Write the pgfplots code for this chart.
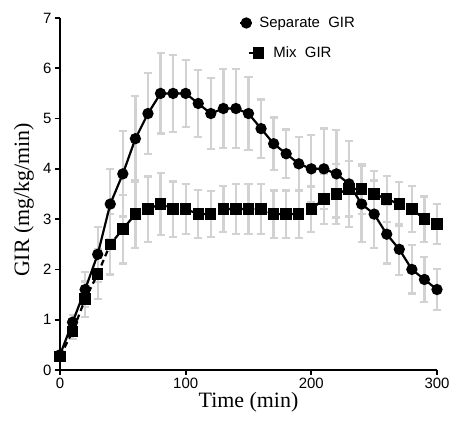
\documentclass[border=0pt]{standalone}
\usepackage{pgfplots}
\pgfplotsset{compat=1.18}
\usepackage{pgfplotstable}
\usepackage{fontspec}
\setmainfont{Liberation Serif}
\newfontfamily\arial{Liberation Sans}
\usetikzlibrary{calc}
\definecolor{errgray}{RGB}{210,210,210}

\pgfplotsset{
  sepimg/.style={legend image code/.code={\draw[mark repeat=2, mark phase=2, ##1] plot coordinates {(0bp,0bp) (6bp,0bp) (12bp,0bp)};}},
  miximg/.style={legend image code/.code={\path[draw=none, fill=none] (0bp,-4bp) rectangle (12bp,4bp);
     \draw[overlay, black, solid, line width=2.2bp] (9bp,0bp) -- (18bp,0bp);
     \draw[overlay, ##1, draw=none] plot coordinates {(18bp,0bp)};}},
}

\pgfplotstableread{
t y e
0 0.30 0.05
10 0.95 0.15
20 1.60 0.35
30 2.30 0.55
40 3.30 0.70
50 3.90 0.85
60 4.60 0.85
70 5.10 0.80
80 5.50 0.80
90 5.50 0.77
100 5.50 0.67
110 5.30 0.66
120 5.10 0.70
130 5.20 0.78
140 5.20 0.78
150 5.10 0.72
160 4.80 0.58
170 4.50 0.52
180 4.30 0.48
190 4.10 0.53
200 4.00 0.67
210 4.00 0.80
220 3.90 0.87
230 3.70 0.86
240 3.30 0.75
250 3.10 0.67
260 2.70 0.58
270 2.40 0.51
280 2.00 0.48
290 1.80 0.45
300 1.60 0.41
}\sep

\pgfplotstableread{
t y e
0 0.27 0.05
10 0.76 0.15
20 1.41 0.35
30 1.91 0.50
40 2.50 0.60
50 2.80 0.68
60 3.10 0.68
70 3.20 0.65
80 3.30 0.62
90 3.20 0.55
100 3.20 0.50
110 3.10 0.48
120 3.10 0.46
130 3.20 0.46
140 3.20 0.50
150 3.20 0.50
160 3.20 0.50
170 3.10 0.47
180 3.10 0.47
190 3.10 0.47
200 3.20 0.45
210 3.40 0.50
220 3.50 0.60
230 3.60 0.55
240 3.60 0.50
250 3.50 0.46
260 3.40 0.46
270 3.30 0.44
280 3.20 0.46
290 3.00 0.45
300 2.90 0.40
}\mix

\begin{document}
\begin{tikzpicture}
\begin{axis}[
  scale only axis, width=377bp, height=352bp,
  xmin=0, xmax=300, ymin=0, ymax=7,
  axis x line*=bottom, axis y line*=left,
  axis line style={line width=2.3bp, black},
  xtick={0,100,200,300}, ytick={0,1,...,7},
  tick align=outside, major tick length=5bp,
  tick style={line width=1.8bp, black},
  /pgf/number format/assume math mode=true,
  tick label style={font=\arial\fontsize{15}{15}\selectfont},
  xlabel={Time (min)}, ylabel={GIR (mg/kg/min)},
  label style={font=\fontsize{22}{22}\selectfont},
  xlabel style={at={(axis description cs:0.5,-0.092)}, anchor=center},
  ylabel style={at={(axis description cs:-0.0955,0.483)}, anchor=center},
  clip=false,
  legend style={draw=none, fill=none, at={(axis description cs:0.4748,1.009)}, anchor=north west,
    font=\arial\fontsize{15}{15}\selectfont, row sep=14bp, column sep=4bp, inner sep=0pt},
  legend cell align=left,
]
\addplot[forget plot, draw=none, mark=none, error bars/.cd, y dir=both, y explicit,
  error bar style={draw=errgray, solid, line width=2.3bp},
  error mark options={rotate=90, mark size=4bp, line width=2.3bp, draw=errgray}]
  table[x=t, y=y, y error=e] {\sep};
\addplot[forget plot, draw=none, mark=none, error bars/.cd, y dir=both, y explicit,
  error bar style={draw=errgray, solid, line width=2.3bp},
  error mark options={rotate=90, mark size=4bp, line width=2.3bp, draw=errgray}]
  table[x=t, y=y, y error=e] {\mix};

\addplot[black, solid, line width=2.2bp, mark=*, mark size=4.5bp, mark options={solid, fill=black}, sepimg]
  table[x=t, y=y] {\sep};
\addlegendentry{Separate\ \ GIR}
\addplot[black, dash pattern=on 6bp off 4bp, line width=2.2bp, mark=square*, mark size=4.6bp, mark options={solid, fill=black}, miximg]
  table[x=t, y=y] {\mix};
\addlegendentry{\hspace{14bp}Mix\ \ GIR}
\end{axis}
\pgfresetboundingbox
\path[use as bounding box] ($(current axis.south west)+(-60bp,-55bp)$) rectangle ($(current axis.north east)+(15bp,18bp)$);
\end{tikzpicture}
\end{document}
